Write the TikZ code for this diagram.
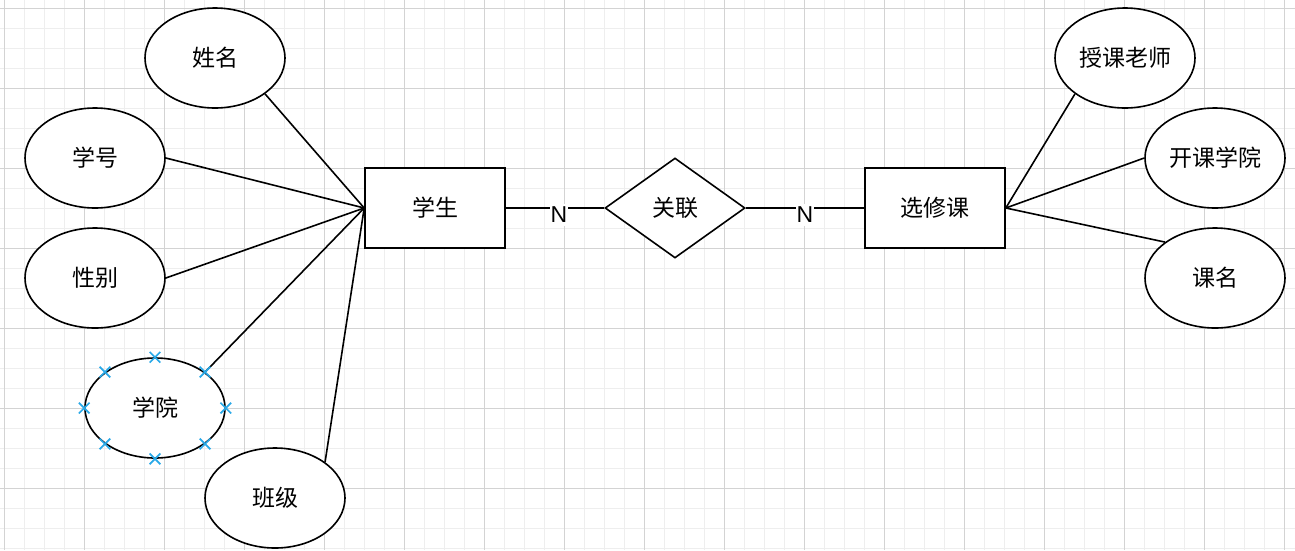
\documentclass[tikz,border=0pt]{standalone}
\usepackage{fontspec}
\setmainfont{Liberation Sans}
\newfontfamily\cjk{Noto Sans CJK SC}
\usetikzlibrary{shapes.geometric,shapes.misc}
\definecolor{minorgrid}{HTML}{EEEEEE}
\definecolor{majorgrid}{HTML}{D3D3D3}
\definecolor{pointblue}{HTML}{29A9E8}

\begin{document}
\begin{tikzpicture}[x=1pt, y=-1pt,
  attr/.style={ellipse, draw, fill=white, line width=1.6pt, minimum width=140pt, minimum height=100pt, inner sep=0pt, font=\cjk\fontsize{23}{28}\selectfont},
  entity/.style={rectangle, draw, fill=white, line width=1.6pt, minimum width=140pt, minimum height=80pt, inner sep=0pt, font=\cjk\fontsize{23}{28}\selectfont},
  rel/.style={diamond, draw, fill=white, line width=1.6pt, minimum width=140pt, minimum height=100pt, inner sep=0pt, font=\cjk\fontsize{23}{28}\selectfont},
  link/.style={line width=1.6pt},
  card/.style={fill=white, inner xsep=1pt, inner ysep=3pt, font=\fontsize{23}{28}\selectfont},
  xmark/.style={cross out, draw=pointblue, line width=1.7pt, minimum size=9pt, inner sep=0pt}]

  % Background grid
  \useasboundingbox (0,0) rectangle (1295,550);
  \fill[white] (0,0) rectangle (1295,550);
  \foreach \x in {4,24,...,1284} \draw[minorgrid, line width=1pt] (\x,0) -- (\x,550);
  \foreach \y in {8,28,...,548} \draw[minorgrid, line width=1pt] (0,\y) -- (1295,\y);
  \foreach \x in {4,84,...,1284} \draw[majorgrid, line width=1pt] (\x,0) -- (\x,550);
  \foreach \y in {8,88,...,488} \draw[majorgrid, line width=1pt] (0,\y) -- (1295,\y);

  % Define coordinates for nodes
  \node[entity] (S) at (435, 208) {学生};
  \node[rel] (R) at (675, 208) {关联};
  \node[entity] (C) at (935, 208) {选修课};
  \node[attr] (a1) at (215, 58) {姓名};
  \node[attr] (a2) at (95, 158) {学号};
  \node[attr] (a3) at (95, 278) {性别};
  \node[attr] (a4) at (155, 408) {学院};
  \node[attr] (a5) at (275, 498) {班级};
  \node[attr] (b1) at (1125, 58) {授课老师};
  \node[attr] (b2) at (1215, 158) {开课学院};
  \node[attr] (b3) at (1215, 278) {课名};

  % Draw lines between nodes
  \draw[link] (a1.south east) -- (S.west);
  \draw[link] (a2.east) -- (S.west);
  \draw[link] (a3.east) -- (S.west);
  \draw[link] (a4.north east) -- (S.west);
  \draw[link] (a5.north east) -- (S.west);
  \draw[link] (S.east) -- node[card, pos=0.54, yshift=-7pt] {N} (R.west);
  \draw[link] (R.east) -- node[card, pos=0.5, yshift=-7pt] {N} (C.west);
  \draw[link] (C.east) -- (b1.south west);
  \draw[link] (C.east) -- (b2.west);
  \draw[link] (C.east) -- (b3.north west);

  % Connection points on the selected node
  \foreach \a in {north, north east, east, south east, south, south west, west, north west}
    \node[xmark] at (a4.\a) {};
\end{tikzpicture}
\end{document}
